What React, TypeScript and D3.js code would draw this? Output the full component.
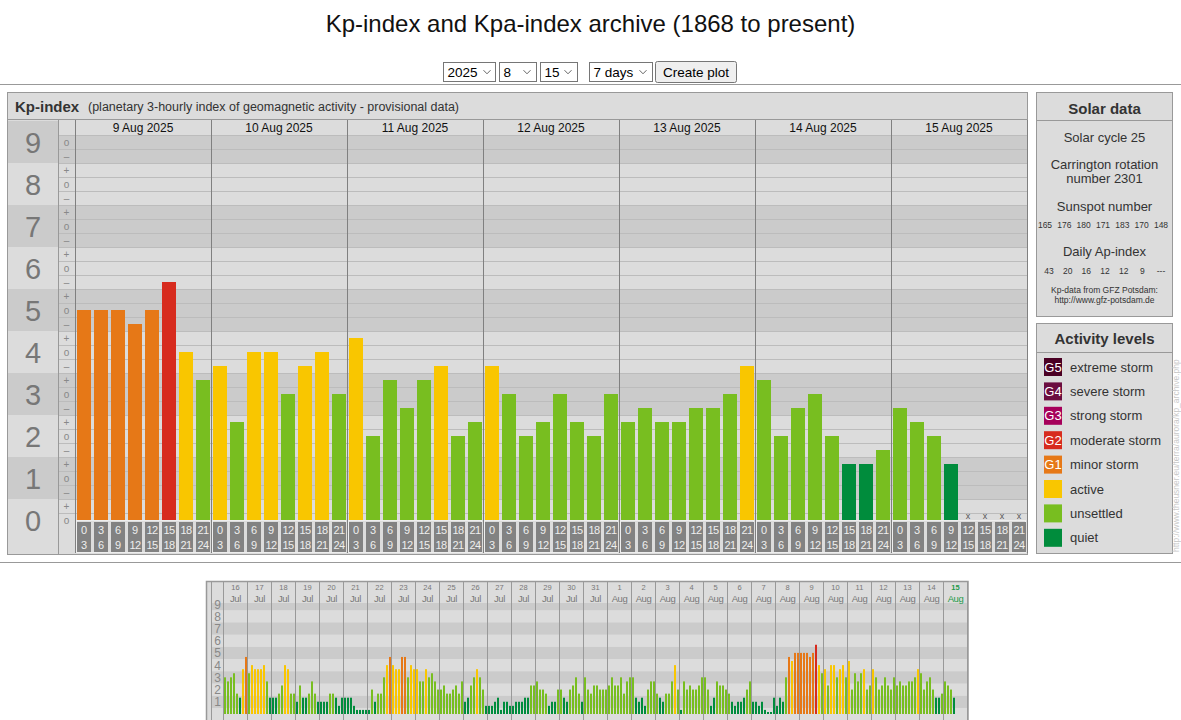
import React from 'react';
import * as d3 from 'd3';

const FONT = '"Liberation Sans", Arial, Helvetica, sans-serif';

// ---------- data ----------
const mainDays = ['9 Aug 2025', '10 Aug 2025', '11 Aug 2025', '12 Aug 2025', '13 Aug 2025', '14 Aug 2025', '15 Aug 2025'];
const slotStart = ['0', '3', '6', '9', '12', '15', '18', '21'];
const slotEnd = ['3', '6', '9', '12', '15', '18', '21', '24'];

const kpAug09 = ['5o', '5o', '5o', '5-', '5o', '6-', '4o', '3+'];
const kpAug10 = ['4-', '2+', '4o', '4o', '3o', '4-', '4o', '3o'];
const kpAug11 = ['4+', '2o', '3+', '3-', '3+', '4-', '2o', '2+'];
const kpAug12 = ['4-', '3o', '2o', '2+', '3o', '2+', '2o', '3o'];
const kpAug13 = ['2+', '3-', '2+', '2+', '3-', '3-', '3o', '4-'];
const kpAug14 = ['3+', '2o', '3-', '3o', '2o', '1+', '1+', '2-'];
const kpAug15 = ['3-', '2+', '2o', '1+', null, null, null, null];
const kpMain = [kpAug09, kpAug10, kpAug11, kpAug12, kpAug13, kpAug14, kpAug15];

const historyDayNums = ['16', '17', '18', '19', '20', '21', '22', '23', '24', '25', '26', '27', '28', '29', '30', '31', '1', '2', '3', '4', '5', '6', '7', '8'];
const historyMonths = ['Jul', 'Jul', 'Jul', 'Jul', 'Jul', 'Jul', 'Jul', 'Jul', 'Jul', 'Jul', 'Jul', 'Jul', 'Jul', 'Jul', 'Jul', 'Jul', 'Aug', 'Aug', 'Aug', 'Aug', 'Aug', 'Aug', 'Aug', 'Aug'];
const historyKp = [
  ['3o', '3-', '3o', '3+', '2-', '1+', '4-', '5-'],
  ['3+', '4o', '4-', '4-', '4-', '4o', '3-', '1+'],
  ['1+', '1+', '2-', '2+', '4o', '4-', '2-', '2-'],
  ['1o', '2+', '1+', '1+', '2-', '3-', '2-', '1o'],
  ['1o', '1o', '1o', '2-', '2-', '1+', '1-', '1+'],
  ['1+', '1+', '1+', '1-', '0+', '0+', '0+', '0+'],
  ['0+', '2o', '1o', '2-', '2-', '3o', '4o', '5-'],
  ['4o', '4-', '4-', '5-', '5-', '3o', '4o', '4-'],
  ['4-', '3-', '3-', '4-', '3o', '3+', '3-', '2o'],
  ['2o', '2+', '2-', '2-', '2o', '2+', '2-', '3-'],
  ['1o', '1+', '2+', '3o', '4-', '3o', '2o', '1-'],
  ['1-', '1-', '1o', '1+', '0+', '1o', '1o', '1-'],
  ['1-', '1o', '1o', '1o', '1+', '1+', '2+', '2+'],
  ['3-', '2o', '2o', '2-', '1-', '1o', '1o', '2o'],
  ['2o', '1+', '1o', '2o', '2+', '3o', '2-', '1o'],
  ['3o', '2o', '2-', '2+', '2+', '2o', '2o', '2o'],
  ['2+', '3o', '2+', '2+', '3o', '2-', '3-', '3o'],
  ['3o', '1+', '1o', '1+', '1-', '2o', '3-', '3-'],
  ['2-', '1+', '1o', '2-', '2-', '3-', '4o', '2o'],
  ['0+', '3-', '2o', '2+', '2o', '2o', '2+', '3o'],
  ['3o', '2o', '1-', '1+', '3-', '2+', '2+', '2o'],
  ['2-', '1o', '1-', '1o', '1o', '1+', '2o', '3-'],
  ['1o', '1o', '1-', '1o', '0+', '0o', '0o', '1+'],
  ['1-', '1+', '1o', '3o', '5-', '4+', '5o', '5o'],
];

const sunspotNumbers = ['165', '176', '180', '171', '183', '170', '148'];
const dailyAp = ['43', '20', '16', '12', '12', '9', '---'];

const legendCodes = ['G5', 'G4', 'G3', 'G2', 'G1', '', '', ''];
const legendLabels = ['extreme storm', 'severe storm', 'strong storm', 'moderate storm', 'minor storm', 'active', 'unsettled', 'quiet'];
const legendColors = ['#4a0024', '#6b0d40', '#a6005a', '#d72b1e', '#e67817', '#f9c600', '#78be20', '#008c3c'];

const levelsMain = [0, 1, 2, 3, 4, 5, 6, 7, 8, 9];

// ---------- helpers ----------
const kpValue = (s: string) => {
  const n = +s[0];
  const m = s[1];
  return m === '+' ? n + 1 / 3 : m === '-' ? n - 1 / 3 : n;
};
const kpColor = (v: number) => {
  if (v < 1.5) return legendColors[7];
  if (v < 3.5) return legendColors[6];
  if (v < 4.5) return legendColors[5];
  if (v < 5.5) return legendColors[4];
  if (v < 6.5) return legendColors[3];
  if (v < 7.5) return legendColors[2];
  if (v < 8.5) return legendColors[1];
  return legendColors[0];
};

const DARK = '#cbcbcb';
const LIGHT = '#dcdcdc';

export default function App() {
  // main chart scales
  const x = d3.scaleLinear().domain([0, 56]).range([75, 1027]);
  const y = d3.scaleLinear().domain([0, 9]).range([520, 142]);
  const slotW = x(1) - x(0);

  // mini chart scales
  const nMiniDays = historyKp.length + kpMain.length;
  const xm = d3.scaleLinear().domain([0, nMiniDays * 8]).range([223.5, 967.5]);
  const ym = d3.scaleLinear().domain([0, 9]).range([714, 604]);
  const miniSlot = xm(1) - xm(0);

  const miniKp = [...historyKp, ...kpMain].flat();
  const miniNums = [...historyDayNums, ...mainDays.map((d) => d.split(' ')[0])];
  const miniMons = [...historyMonths, ...mainDays.map((d) => d.split(' ')[1])];

  const gridVals = d3.range(0, 28).map((k) => k / 3 + 1 / 6);

  const signs: { v: number; s: string }[] = [];
  levelsMain.forEach((n) => {
    if (n < 9) signs.push({ v: n + 1 / 3, s: '+' });
    signs.push({ v: n, s: 'o' });
    if (n > 0) signs.push({ v: n - 1 / 3, s: '–' });
  });

  const sunX = d3.scalePoint<number>().domain(d3.range(7)).range([1045, 1161]);
  const apX = d3.scalePoint<number>().domain(d3.range(7)).range([1049, 1161]);

  const chev = (cx: number, cy: number) => `M${cx - 3.5},${cy - 1.8} L${cx},${cy + 1.8} L${cx + 3.5},${cy - 1.8}`;

  const selects = [
    { x: 443, w: 52, label: '2025', cx: 487 },
    { x: 499, w: 37, label: '8', cx: 527 },
    { x: 540, w: 37, label: '15', cx: 568 },
    { x: 589, w: 63, label: '7 days', cx: 643 },
  ];

  return (
    <svg width={1181} height={720} style={{ position: 'absolute', left: 0, top: 0, fontFamily: FONT }}>
      <rect x={0} y={0} width={1181} height={720} fill="#fff" />
      {/* title */}
      <text x={590.5} y={32} textAnchor="middle" fontSize={24} fill="#111">Kp-index and Kpa-index archive (1868 to present)</text>

      {/* controls */}
      {selects.map((s, i) => (
        <g key={i}>
          <rect x={s.x + 0.5} y={62.5} width={s.w} height={19} fill="#fff" stroke="#767676" />
          <text x={s.x + 4.5} y={77} fontSize={13.5} fill="#000">{s.label}</text>
          <path d={chev(s.cx, 72)} fill="none" stroke="#666" strokeWidth={1} />
        </g>
      ))}
      <rect x={655.5} y={61.5} width={81} height={21} rx={2} fill="#efefef" stroke="#767676" />
      <text x={696} y={77} textAnchor="middle" fontSize={13.5} fill="#000">Create plot</text>
      <line x1={0} x2={1181} y1={84.5} y2={84.5} stroke="#999" />
      <line x1={0} x2={1181} y1={562.5} y2={562.5} stroke="#999" />

      {/* main panel */}
      <rect x={7.5} y={92.5} width={1020} height={462} fill={LIGHT} stroke="#999" />
      <text x={15} y={111.5} fontSize={15} fontWeight="bold" fill="#333">Kp-index</text>
      <text x={88} y={111} fontSize={12.5} fill="#333">(planetary 3-hourly index of geomagnetic activity - provisional data)</text>
      <line x1={7.5} x2={1027.5} y1={119.5} y2={119.5} stroke="#999" />

      {/* big column bands */}
      {levelsMain.map((n) => {
        const top = Math.max(y(n + 0.5), 120);
        const bot = Math.min(y(n - 0.5), 554);
        return <rect key={'bc' + n} x={8} y={top} width={50} height={bot - top} fill={n % 2 ? DARK : LIGHT} />;
      })}
      {/* plot bands */}
      {levelsMain.map((n) => {
        const top = Math.max(y(n + 0.5), 135);
        const bot = Math.min(y(n - 0.5), 520);
        return <rect key={'pb' + n} x={58} y={top} width={969} height={bot - top} fill={n % 2 ? DARK : LIGHT} />;
      })}
      {/* gridlines */}
      {gridVals.filter((v) => y(v) <= 520 && y(v) >= 134).map((v, i) => (
        <line key={'g' + i} x1={58} x2={1027} y1={Math.round(y(v)) + 0.5} y2={Math.round(y(v)) + 0.5} stroke="#bcbcbc" />
      ))}
      {/* big numbers */}
      {levelsMain.map((n) => (
        <text key={'bn' + n} x={33} y={y(n) + 10.5} textAnchor="middle" fontSize={29} fill="#777">{n}</text>
      ))}
      {/* signs */}
      {signs.map((s, i) => (
        <text key={'s' + i} x={66.5} y={y(s.v) + 3.5} textAnchor="middle" fontSize={10} fill="#888">{s.s}</text>
      ))}
      <line x1={58.5} x2={58.5} y1={120} y2={554} stroke="#999" />

      {/* date labels */}
      {mainDays.map((d, i) => (
        <text key={'d' + i} x={(x(i * 8) + x(i * 8 + 8)) / 2} y={132} textAnchor="middle" fontSize={12} fill="#111">{d}</text>
      ))}

      {/* bars */}
      {kpMain.flatMap((day, di) =>
        day.map((k, si) => {
          const i = di * 8 + si;
          if (k === null) {
            return (
              <text key={'b' + i} x={x(i) + 2 + (slotW - 3) / 2} y={519} textAnchor="middle" fontSize={9} fill="#555">x</text>
            );
          }
          const v = kpValue(k);
          return <rect key={'b' + i} x={x(i) + 2} y={y(v)} width={slotW - 3} height={y(0) - y(v)} fill={kpColor(v)} />;
        })
      )}

      {/* x label row */}
      {mainDays.map((d, di) => (
        <rect key={'grp' + di} x={x(di * 8) + 1.5} y={520.5} width={slotW * 8 - 3} height={32} fill="none" stroke="#eeeeee" />
      ))}
      {d3.range(56).map((i) => (
        <g key={'xl' + i}>
          <rect x={x(i) + 2} y={522} width={slotW - 3} height={30} fill="#828282" />
          <text x={x(i) + 2 + (slotW - 3) / 2} y={534} textAnchor="middle" fontSize={11} fill="#eee" letterSpacing={slotStart[i % 8].length > 1 ? -0.6 : 0}>{slotStart[i % 8]}</text>
          <text x={x(i) + 2 + (slotW - 3) / 2} y={548.5} textAnchor="middle" fontSize={11} fill="#eee" letterSpacing={slotEnd[i % 8].length > 1 ? -0.6 : 0}>{slotEnd[i % 8]}</text>
        </g>
      ))}
      {/* day lines */}
      {d3.range(8).map((d) => (
        <line key={'dl' + d} x1={Math.round(x(d * 8)) + 0.5} x2={Math.round(x(d * 8)) + 0.5} y1={120} y2={553} stroke="#808080" />
      ))}

      {/* Solar data panel */}
      <rect x={1036.5} y={92.5} width={136} height={224} fill={LIGHT} stroke="#999" />
      <line x1={1036.5} x2={1172.5} y1={120.5} y2={120.5} stroke="#999" />
      <text x={1104.5} y={114} textAnchor="middle" fontSize={15} fontWeight="bold" fill="#333">Solar data</text>
      <text x={1104.5} y={141.5} textAnchor="middle" fontSize={13} fill="#333">Solar cycle 25</text>
      <text x={1104.5} y={169} textAnchor="middle" fontSize={13} fill="#333">Carrington rotation</text>
      <text x={1104.5} y={183} textAnchor="middle" fontSize={13} fill="#333">number 2301</text>
      <text x={1104.5} y={211} textAnchor="middle" fontSize={13} fill="#333">Sunspot number</text>
      {sunspotNumbers.map((s, i) => (
        <text key={'ss' + i} x={sunX(i)} y={228} textAnchor="middle" fontSize={8.5} fill="#333">{s}</text>
      ))}
      <text x={1104.5} y={256} textAnchor="middle" fontSize={13} fill="#333">Daily Ap-index</text>
      {dailyAp.map((s, i) => (
        <text key={'ap' + i} x={apX(i)} y={274} textAnchor="middle" fontSize={8.5} fill="#333">{s}</text>
      ))}
      <text x={1104.5} y={293} textAnchor="middle" fontSize={8.5} fill="#333">Kp-data from GFZ Potsdam:</text>
      <text x={1104.5} y={303} textAnchor="middle" fontSize={8.5} fill="#333">http://www.gfz-potsdam.de</text>

      {/* Activity levels panel */}
      <rect x={1036.5} y={323.5} width={136} height={230} fill={LIGHT} stroke="#999" />
      <line x1={1036.5} x2={1172.5} y1={352.5} y2={352.5} stroke="#999" />
      <text x={1104.5} y={344} textAnchor="middle" fontSize={15} fontWeight="bold" fill="#333">Activity levels</text>
      {legendLabels.map((l, i) => {
        const cy = 367 + i * 24.4;
        return (
          <g key={'lg' + i}>
            <rect x={1044} y={cy - 9} width={18} height={18} fill={legendColors[i]} />
            {legendCodes[i] && (
              <text x={1053} y={cy + 4.5} textAnchor="middle" fontSize={13} fill="#fff">{legendCodes[i]}</text>
            )}
            <text x={1070} y={cy + 4.5} fontSize={13} fill="#333">{l}</text>
          </g>
        );
      })}

      {/* vertical watermark */}
      <text transform="translate(1179,552) rotate(-90)" fontSize={8.5} fill="#c8c8c8">http://www.theusner.eu/terra/aurora/kp_archive.php</text>

      {/* mini chart */}
      <rect x={206.5} y={581.5} width={761.5} height={150} fill={LIGHT} stroke="#999" strokeWidth={1.5} />
      {levelsMain.map((n) => {
        const top = Math.max(ym(n + 0.5), 603);
        const bot = Math.min(ym(n - 0.5), 720);
        return <rect key={'mb' + n} x={211.5} y={top} width={756} height={bot - top} fill={n % 2 ? DARK : LIGHT} />;
      })}
      <line x1={211.5} x2={211.5} y1={582} y2={720} stroke="#999" />
      {levelsMain.filter((n) => n > 0).map((n) => (
        <text key={'mn' + n} x={217.5} y={ym(n) + 4.5} textAnchor="middle" fontSize={12} fill="#888">{n}</text>
      ))}
      {miniNums.map((d, i) => {
        const cx = (xm(i * 8) + xm(i * 8 + 8)) / 2;
        const cur = i === miniNums.length - 1;
        return (
          <g key={'mh' + i}>
            <text x={cx} y={590} textAnchor="middle" fontSize={7.5} fill={cur ? '#1f9a4a' : '#777'} fontWeight={cur ? 'bold' : 'normal'}>{d}</text>
            <text x={cx} y={601.5} textAnchor="middle" fontSize={9.5} fill={cur ? '#1f9a4a' : '#777'} letterSpacing={-0.4}>{miniMons[i]}</text>
          </g>
        );
      })}
      {miniKp.map((k, i) => {
        if (k === null) return null;
        const v = kpValue(k);
        const h = Math.max(ym(0) - ym(v), 2);
        return <rect key={'mk' + i} x={xm(i) + 0.5} y={ym(0) - h} width={miniSlot - 1} height={h} fill={kpColor(v)} />;
      })}
      {d3.range(nMiniDays + 1).map((d) => (
        <line key={'ml' + d} x1={xm(d * 8)} x2={xm(d * 8)} y1={582} y2={720} stroke="#999" />
      ))}
    </svg>
  );
}
